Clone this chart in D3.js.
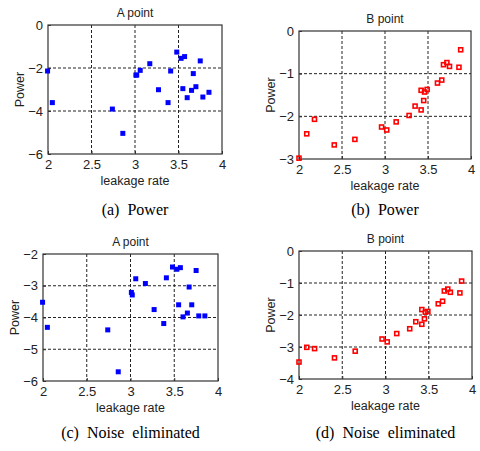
<!DOCTYPE html>
<html>
<head>
<meta charset="utf-8">
<script src="https://cdn.jsdelivr.net/npm/d3@7"></script>
<style>
  body { margin: 0; background: #fff; }
  svg { display: block; }
</style>
</head>
<body>
<svg id="chart" width="480" height="451"></svg>
<script>
// leakage rate for point A and point B (same for raw and noise eliminated)
const rateA = [1.995, 2.05, 2.74, 2.86, 3.01, 3.02, 3.06, 3.17, 3.27, 3.38, 3.41, 3.48,
  3.53, 3.57, 3.55, 3.60, 3.67, 3.65, 3.70, 3.75, 3.78, 3.85];
const powerA = [-2.14, -3.61, -3.91, -5.04, -2.33, -2.33, -2.11, -1.80, -3.01, -3.61, -2.14, -1.26,
  -1.55, -1.47, -2.96, -3.38, -2.26, -3.04, -2.87, -1.67, -3.35, -3.13];
const noiseA = [-3.52, -4.31, -4.39, -5.71, -3.21, -3.29, -2.78, -2.93, -3.75, -4.19, -2.75, -2.41,
  -2.48, -2.43, -3.60, -3.98, -3.04, -3.86, -3.60, -2.52, -3.95, -3.95];

const rateB = [2.0, 2.09, 2.18, 2.41, 2.65, 2.96, 3.02, 3.13, 3.28, 3.35, 3.42, 3.45,
  3.42, 3.46, 3.49, 3.61, 3.66, 3.68, 3.72, 3.75, 3.86, 3.88];
const powerB = [-2.98, -2.41, -2.07, -2.67, -2.54, -2.25, -2.32, -2.13, -1.98, -1.76, -1.85, -1.63,
  -1.39, -1.43, -1.37, -1.22, -1.15, -0.79, -0.74, -0.83, -0.85, -0.44];
const noiseB = [-3.47, -3.01, -3.05, -3.34, -3.13, -2.75, -2.84, -2.58, -2.43, -2.21, -2.29, -2.12,
  -1.83, -1.91, -1.89, -1.65, -1.57, -1.25, -1.19, -1.29, -1.31, -0.94];

const xTicks = [2, 2.5, 3, 3.5, 4];
const yTicksA = [0, -2, -4, -6];
const yTicksB = [0, -1, -2, -3];
const yTicksC = [-2, -3, -4, -5, -6];
const yTicksD = [0, -1, -2, -3, -4];

const captions = ["(a)  Power", "(b)  Power", "(c)  Noise  eliminated", "(d)  Noise  eliminated"];

const panels = [
  { title: "A point", xs: rateA, ys: powerA, yTicks: yTicksA, box: [48, 25, 222, 154], kind: "fill", cap: captions[0], capY: 215 },
  { title: "B point", xs: rateB, ys: powerB, yTicks: yTicksB, box: [299, 31, 471, 159], kind: "hollow", cap: captions[1], capY: 215 },
  { title: "A point", xs: rateA, ys: noiseA, yTicks: yTicksC, box: [43, 254, 218, 381], kind: "fill", cap: captions[2], capY: 438 },
  { title: "B point", xs: rateB, ys: noiseB, yTicks: yTicksD, box: [299, 251, 472, 379], kind: "hollow", cap: captions[3], capY: 438 }
];

const svg = d3.select("#chart");
const font = "Liberation Sans, Arial, sans-serif";

panels.forEach((p) => {
  const [x0, y0, x1, y1] = p.box;
  const xScale = d3.scaleLinear().domain([2, 4]).range([x0, x1]);
  const yScale = d3.scaleLinear().domain(d3.extent(p.yTicks)).range([y1, y0]);
  const g = svg.append("g");

  // grid lines (dashed)
  g.selectAll(".gx").data(xTicks.slice(1, -1)).join("line")
    .attr("x1", (d) => xScale(d)).attr("x2", (d) => xScale(d))
    .attr("y1", y0).attr("y2", y1)
    .attr("stroke", "#222").attr("stroke-width", 1).attr("stroke-dasharray", "3,2");
  const yInner = p.yTicks.filter((d) => d !== d3.min(p.yTicks) && d !== d3.max(p.yTicks));
  g.selectAll(".gy").data(yInner).join("line")
    .attr("x1", x0).attr("x2", x1)
    .attr("y1", (d) => yScale(d)).attr("y2", (d) => yScale(d))
    .attr("stroke", "#222").attr("stroke-width", 1).attr("stroke-dasharray", "3,2");

  // axes
  const xAxis = d3.axisBottom(xScale).tickValues(xTicks).tickFormat(d3.format("")).tickSizeInner(-3).tickSizeOuter(0).tickPadding(6);
  const yAxis = d3.axisLeft(yScale).tickValues(p.yTicks).tickFormat(d3.format("")).tickSizeInner(-3).tickSizeOuter(0).tickPadding(5);
  const gx = g.append("g").attr("transform", `translate(0,${y1})`).call(xAxis);
  const gy = g.append("g").attr("transform", `translate(${x0},0)`).call(yAxis);
  [gx, gy].forEach((a) => {
    a.select(".domain").remove();
    a.selectAll("line").attr("stroke", "#333");
    a.selectAll("text").attr("font-family", font).attr("font-size", 13).attr("fill", "#222");
  });

  // frame
  g.append("rect").attr("x", x0).attr("y", y0)
    .attr("width", x1 - x0).attr("height", y1 - y0)
    .attr("fill", "none").attr("stroke", "#333").attr("stroke-width", 1.2);

  // markers
  const pts = p.xs.map((x, i) => ({ x: x, y: p.ys[i] }));
  if (p.kind === "fill") {
    g.selectAll(".pt").data(pts).join("rect")
      .attr("x", (d) => xScale(d.x) - 2.5).attr("y", (d) => yScale(d.y) - 2.5)
      .attr("width", 5).attr("height", 5).attr("fill", "#0000ff");
  } else {
    g.selectAll(".pt").data(pts).join("rect")
      .attr("x", (d) => xScale(d.x) - 2).attr("y", (d) => yScale(d.y) - 2)
      .attr("width", 4).attr("height", 4)
      .attr("fill", "none").attr("stroke", "#ff0000").attr("stroke-width", 1.6);
  }

  // title and labels
  const cx = (x0 + x1) / 2;
  g.append("text").attr("x", cx).attr("y", y0 - 8).attr("text-anchor", "middle")
    .attr("font-family", font).attr("font-size", 12).attr("fill", "#222").text(p.title);
  g.append("text").attr("x", cx).attr("y", y1 + 31).attr("text-anchor", "middle")
    .attr("font-family", font).attr("font-size", 12.5).attr("fill", "#222").text("leakage rate");
  g.append("text").attr("transform", `translate(${x0 - 24},${(y0 + y1) / 2}) rotate(-90)`)
    .attr("text-anchor", "middle")
    .attr("font-family", font).attr("font-size", 12.5).attr("fill", "#222").text("Power");

  // caption
  g.append("text").attr("x", cx).attr("y", p.capY).attr("text-anchor", "middle")
    .attr("font-family", "Liberation Serif, Times New Roman, serif").attr("font-size", 16)
    .attr("fill", "#000").attr("xml:space", "preserve").style("white-space", "pre").text(p.cap);
});
</script>
</body>
</html>
